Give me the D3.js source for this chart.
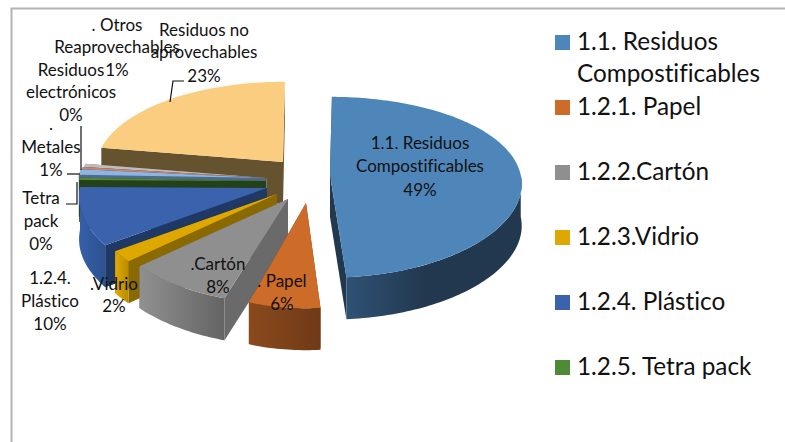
<!DOCTYPE html>
<html><head><meta charset="utf-8">
<script src="https://cdn.jsdelivr.net/npm/d3@7"></script>
<style>html,body{margin:0;padding:0;background:#fff}svg{display:block}text{font-family:Lato,"Open Sans",sans-serif;fill:#111;font-variant-ligatures:none}</style>
</head><body><svg id="c" width="785" height="442"></svg>
<script>
const categories = ["1.1. Residuos Compostificables","1.2.1. Papel","1.2.2.Cartón","1.2.3.Vidrio","1.2.4. Plástico","1.2.5. Tetra pack","Metales","Residuos electrónicos","Otros Reaprovechables","Residuos no aprovechables"];
const values = [48.6,6.2,8.3,1.9,10,0.4,1,0.4,0.6,22.6];
const legendEntries = categories.slice(0,6);
const topColors  = ["#4f86b9","#cd6b28","#8f8f8f","#dfa800","#3a62ad","#4f8a35","#8db4e2","#cf8468","#bdbdbd","#fbcd80"];
const wallColors = ["#22384f","#7a4019","#6a6a6a","#8a6a00","#1f3864","#24421a","#4f6a8a","#7a4a38","#777777","#65522f"];
const outerFrom  = ["#2f5274","#8a4a1e","#909090","#e0aa00","#3560a8","#2f5a22","#6f90b8","#9a6048","#999999","#65522f"];
const outerTo    = ["#22384f","#6f3a16","#646464","#b88a00","#2c5290","#24421a","#4f6a8a","#7a4a38","#777777","#65522f"];
// explosion of each slice, relative to the pie's centre
const explode = [[60,-5],[36,23],[18,19],[7,14],[-3,8],[-4,1],[-5,-2],[-4,-2],[-3,-2],[13,-18]];
const sliceScale = [[1.02,0.975],[0.9,1],[1,1],[1,1],[1,1],[1,1],[1,1],[1,1],[1,1],[1,1]];
const labelBlocks = [
  {lines:["1.1. Residuos","Compostificables","49%"],x:420,y:[149,172,196]},
  {lines:[". Papel","6%"],x:282,y:[287,310]},
  {lines:[".Cartón","8%"],x:218,y:[270,293]},
  {lines:[".Vidrio","2%"],x:114,y:[290,312]},
  {lines:["1.2.4.","Plástico","10%"],x:50,y:[284,307,330]},
  {lines:["Tetra","pack","0%"],x:41,y:[204,227,250]},
  {lines:[".","Metales","1%"],x:51,y:[130,153,176]},
  {lines:["Residuos","electrónicos","0%"],x:71,y:[76,98,121]},
  {lines:[". Otros","Reaprovechables","1%"],x:117,y:[31,53,76]},
  {lines:["Residuos no","aprovechables","23%"],x:204,y:[36,58,82]}
];
const leaders = [
  [[170,102],[173,81],[184,81]],
  [[81,126],[81,170]],
  [[67,174],[80,174]],
  [[66,204],[77,204],[77,182]]
];
const legendRowsY = [50,115,180,245,310,375];

const svg = d3.select("#c");
const cx=270, cy=180, rx=187, ry=91, kx=0.1, ky=0.135, depth=42;
svg.append("path").attr("d","M11.5 442V8.5H785").attr("fill","none").attr("stroke","#b4b4b4").attr("stroke-width",2);

const rad = d3.scaleLinear().domain([0,360]).range([0,2*Math.PI]);
const pie = d3.pie().sort(null).startAngle(rad(0.6)).endAngle(rad(360.6));
const arcs = pie(values);
function proj(t,i){return [sliceScale[i][0]*rx*Math.sin(t)/(1+kx*Math.cos(t)),-sliceScale[i][1]*ry*Math.cos(t)/(1+ky*Math.cos(t))];}
const line = d3.line();
const defs = svg.append("defs");
function rim(a0,a1,ox,oy,dz,i){const n=Math.max(2,Math.ceil((a1-a0)/0.02));
  return d3.range(n+1).map(j=>{const t=a0+(a1-a0)*j/n,p=proj(t,i);return [ox+p[0],oy+p[1]+dz];});}

const paint = [9,8,7,6,5,4,3,2,1,0];
const g = svg.append("g");
paint.forEach(i=>{
  const a=arcs[i], ox=cx+explode[i][0], oy=cy+explode[i][1];
  const sl=g.append("g").attr("class","slice");
  [a.startAngle,a.endAngle].forEach(t=>{
    const p=proj(t,i), q=[ox+p[0],oy+p[1]];
    sl.append("path").attr("d",line([[ox,oy],q,[q[0],q[1]+depth],[ox,oy+depth]])+"Z").attr("fill",wallColors[i]);
  });
  const lo=Math.max(a.startAngle,Math.PI/2), hi=Math.min(a.endAngle,3*Math.PI/2);
  if(hi>lo){
    const id="w"+i;
    const gr=defs.append("linearGradient").attr("id",id).attr("x1",0).attr("x2",1).attr("y1",0).attr("y2",0);
    gr.append("stop").attr("offset",0).attr("stop-color",outerFrom[i]);
    gr.append("stop").attr("offset",i===0?0.45:1).attr("stop-color",outerTo[i]);
    const top=rim(lo,hi,ox,oy,0,i), bot=rim(lo,hi,ox,oy,depth,i).reverse();
    sl.append("path").attr("d",line(top.concat(bot))+"Z").attr("fill",`url(#${id})`);
  }
  sl.append("path").attr("d",line([[ox,oy]].concat(rim(a.startAngle,a.endAngle,ox,oy,0,i)))+"Z").attr("fill",topColors[i]);
});

const lead=svg.append("g");
leaders.forEach(l=>lead.append("path").attr("d",line(l)).attr("fill","none").attr("stroke","#111").attr("stroke-width",1.2));

const lab=svg.append("g").attr("font-size",17).attr("text-anchor","middle");
labelBlocks.forEach(b=>b.lines.forEach((t,j)=>lab.append("text").attr("x",b.x).attr("y",b.y[j]).text(t)));

const leg=svg.append("g").attr("font-size",24.3);
legendEntries.forEach((c,i)=>{
  leg.append("rect").attr("x",555).attr("y",legendRowsY[i]-15).attr("width",15).attr("height",15).attr("fill",topColors[i]);
  if(i===0){
    leg.append("text").attr("x",577).attr("y",50).text("1.1. Residuos");
    leg.append("text").attr("x",577).attr("y",82).text("Compostificables");
  } else leg.append("text").attr("x",577).attr("y",legendRowsY[i]).text(c);
});
</script></body></html>
